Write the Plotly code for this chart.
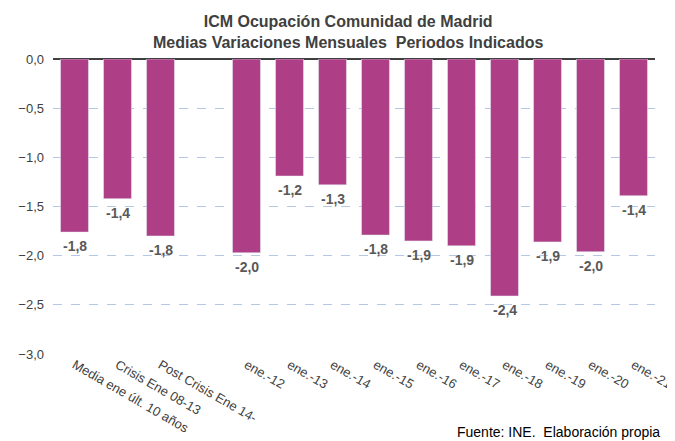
import plotly.graph_objects as go

BAR = "#AE3F87"
GRID = "#B4C7E7"
TXT = "#404040"

categorias = ["Media ene últ. 10 años", "Crisis Ene 08-13", "Post Crisis Ene 14-", " ",
              "ene.-12", "ene.-13", "ene.-14", "ene.-15", "ene.-16", "ene.-17",
              "ene.-18", "ene.-19", "ene.-20", "ene.-21"]
valores = [-1.76, -1.42, -1.80, None, -1.97, -1.19, -1.28, -1.79, -1.85, -1.90,
           -2.41, -1.86, -1.96, -1.39]

fig = go.Figure()
fig.add_bar(x=categorias, y=valores, marker_color=BAR, hoverinfo="x+y")

# etiquetas de valor debajo de cada barra
for c, v in zip(categorias, valores):
    if v is None:
        continue
    fig.add_annotation(
        x=c, y=v, text=f"{v:.1f}".replace(".", ","), showarrow=False,
        yanchor="top", yshift=-4,
        font=dict(family="Liberation Sans, Arial", size=14, color="#595959", weight="bold"),
    )

fig.update_layout(
    title=dict(
        text="<b>ICM Ocupación Comunidad de Madrid<br>Medias Variaciones Mensuales  Periodos Indicados</b>",
        x=0.51, xanchor="center", y=0.955, yanchor="top",
        font=dict(family="Liberation Sans, Arial", size=16, color="#404040"),
    ),
    separators=",.",
    width=667, height=433,
    margin=dict(l=45, r=20, t=51, b=87),
    plot_bgcolor="white", paper_bgcolor="white",
    bargap=0.35,
    showlegend=False,
    font=dict(family="Liberation Sans, Arial", size=13, color=TXT),
    xaxis=dict(tickangle=30, showgrid=False, showline=False, ticks="",
               automargin=False, tickfont=dict(size=13, color=TXT)),
    yaxis=dict(range=[-3, 0], dtick=0.5, tickformat=".1f",
               showgrid=True, gridcolor=GRID, griddash="dash", gridwidth=1,
               zeroline=True, zerolinecolor="#404040", zerolinewidth=1.5,
               showline=False, ticks="", automargin=False, ticklabelstandoff=8,
               tickfont=dict(size=13, color=TXT)),
)
fig.add_annotation(
    text="Fuente: INE.  Elaboración propia", xref="paper", yref="paper",
    x=1.012, y=-0.232, xanchor="right", yanchor="top", showarrow=False,
    font=dict(family="Liberation Sans, Arial", size=14, color="#000000"),
)
fig.write_html("out.html")
